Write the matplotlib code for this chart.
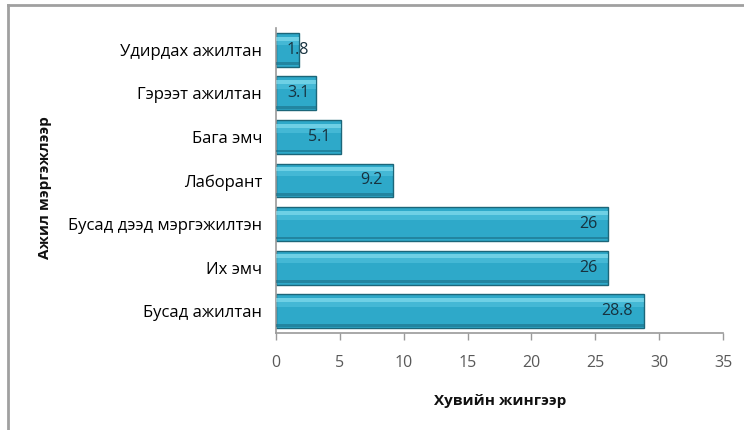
import matplotlib
matplotlib.use("Agg")
import matplotlib.pyplot as plt
from matplotlib.lines import Line2D
import numpy as np

categories = ["Бусад ажилтан", "Их эмч", "Бусад дээд мэргэжилтэн", "Лаборант",
              "Бага эмч", "Гэрээт ажилтан", "Удирдах ажилтан"]
values = [28.8, 26, 26, 9.2, 5.1, 3.1, 1.8]
value_labels = ["28.8", "26", "26", "9.2", "5.1", "3.1", "1.8"]
xticks = [0, 5, 10, 15, 20, 25, 30, 35]
xlabel = "Хувийн жингээр"
ylabel = "Ажил мэргэжлээр"

plt.rcParams['font.family'] = ['Open Sans', 'DejaVu Sans']

W, H = 744, 430
fig = plt.figure(figsize=(W / 100, H / 100), dpi=100)
ax = fig.add_axes([276 / W, 1 - 333 / H, (723 - 276) / W, (333 - 28) / H])

y = np.arange(len(categories))
h = 0.78
ax.barh(y, values, height=h, color='#2EA9C9', edgecolor='#1C6679', linewidth=1.0, zorder=2)
# bevel highlight / shade
ax.barh(y + 0.33 * h, values, height=0.12 * h, color='#9AEBF8', alpha=0.6, linewidth=0, zorder=3)
ax.barh(y + 0.20 * h, values, height=0.14 * h, color='#6FD6EC', alpha=0.35, linewidth=0, zorder=3)
ax.barh(y - 0.41 * h, values, height=0.08 * h, color='#1B6E85', alpha=0.6, linewidth=0, zorder=3)

for yi, v, lab in zip(y, values, value_labels):
    if v < 4:
        ax.annotate(lab, (0, yi), xytext=(11, 0), textcoords='offset pixels',
                    ha='left', va='center', fontsize=11.5, color='#17323F', zorder=4)
    else:
        ax.annotate(lab, (v, yi), xytext=(-11, 0), textcoords='offset pixels',
                    ha='right', va='center', fontsize=11.5, color='#17323F', zorder=4)

ax.set_xlim(0, 35)
ax.set_ylim(-0.5, len(categories) - 0.5)
ax.set_xticks(xticks)
ax.set_xticklabels([str(t) for t in xticks], fontsize=11.5, color='#595959')
ax.set_yticks(y)
ax.set_yticklabels(categories, fontsize=12, color='#000000', fontweight='medium')
ax.tick_params(axis='x', length=5, width=1, color='#9A9A9A', pad=11)
ax.tick_params(axis='y', length=0, pad=10)

for s in ['top', 'right']:
    ax.spines[s].set_visible(False)
for s in ['left', 'bottom']:
    ax.spines[s].set_color('#9A9A9A')
    ax.spines[s].set_linewidth(1.2)

fig.text(500 / W, 1 - 401 / H, xlabel, ha='center', va='center', fontsize=11,
         fontweight='bold', color='#111111')
fig.text(45 / W, 1 - 188 / H, ylabel, ha='center', va='center', fontsize=11,
         fontweight='bold', rotation=90, color='#111111')

# outer frame (top and left)
fig.add_artist(Line2D([8 / W, 1.0], [1 - 5 / H, 1 - 5 / H], transform=fig.transFigure,
                      color='#A0A0A0', linewidth=2))
fig.add_artist(Line2D([8 / W, 8 / W], [1 - 5 / H, 0], transform=fig.transFigure,
                      color='#A0A0A0', linewidth=2))

fig.savefig("out.png", dpi=100)
